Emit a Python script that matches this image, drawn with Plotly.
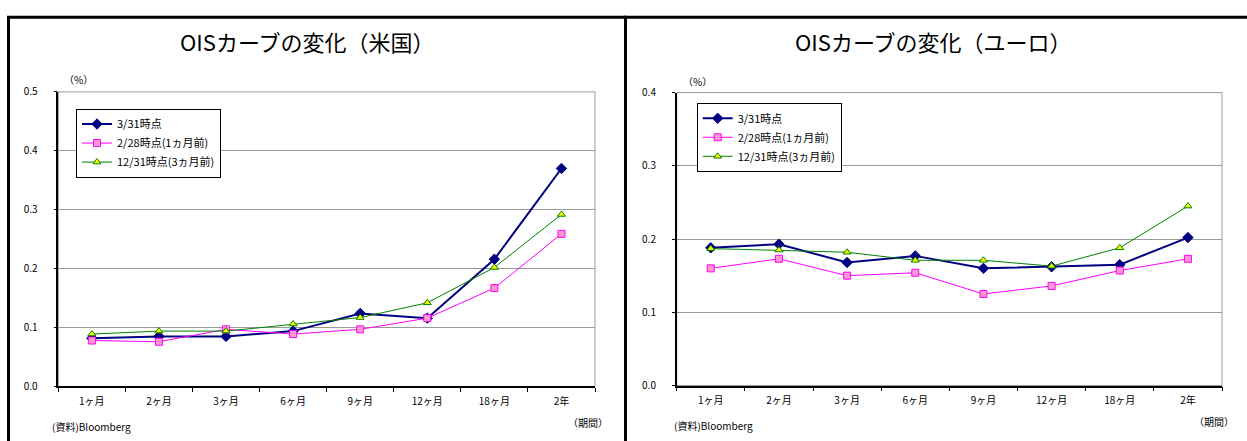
import plotly.graph_objects as go

W, H = 1247, 441

categories = ["1ヶ月", "2ヶ月", "3ヶ月", "6ヶ月", "9ヶ月", "12ヶ月", "18ヶ月", "2年"]
series_names = ["3/31時点", "2/28時点(1ヵ月前)", "12/31時点(3ヵ月前)"]

us_0331 = [0.082, 0.085, 0.085, 0.094, 0.124, 0.116, 0.216, 0.370]
us_0228 = [0.078, 0.076, 0.097, 0.089, 0.097, 0.116, 0.167, 0.259]
us_1231 = [0.089, 0.094, 0.094, 0.106, 0.117, 0.142, 0.202, 0.292]

eu_0331 = [0.188, 0.193, 0.168, 0.177, 0.160, 0.162, 0.165, 0.202]
eu_0228 = [0.160, 0.173, 0.150, 0.154, 0.125, 0.136, 0.157, 0.173]
eu_1231 = [0.187, 0.185, 0.182, 0.171, 0.171, 0.163, 0.188, 0.245]

FONT = "Noto Sans CJK JP"

def px(x):
    return x / W

def py(y):
    return 1 - y / H

styles = [
    dict(line=dict(color="#000080", width=2),
         marker=dict(symbol="diamond", size=8, color="#000080",
                     line=dict(color="#000080", width=1))),
    dict(line=dict(color="#FF00FF", width=1),
         marker=dict(symbol="square", size=7, color="#FF99CC",
                     line=dict(color="#FF00FF", width=1))),
    dict(line=dict(color="#008000", width=1),
         marker=dict(symbol="triangle-up", size=7, color="#FFFF00",
                     line=dict(color="#008000", width=1))),
]

fig = go.Figure()

for vals, name, st in zip([us_0331, us_0228, us_1231], series_names, styles):
    fig.add_trace(go.Scatter(x=categories, y=vals, name=name, mode="lines+markers",
                             xaxis="x", yaxis="y", legend="legend", **st))
for vals, name, st in zip([eu_0331, eu_0228, eu_1231], series_names, styles):
    fig.add_trace(go.Scatter(x=categories, y=vals, name=name, mode="lines+markers",
                             xaxis="x2", yaxis="y2", legend="legend2", **st))

xcommon = dict(type="category", tickson="boundaries", ticks="outside", ticklen=4,
               tickcolor="black", showline=True, linecolor="black", linewidth=1.5,
               showgrid=False, range=[-0.5, 7.5], fixedrange=True,
               tickfont=dict(family=FONT, size=10, color="black"),
               ticklabelstandoff=5, zeroline=False)
ycommon = dict(ticks="outside", ticklen=3, tickcolor="black", showline=True,
               linecolor="black", linewidth=1.5, showgrid=True, gridcolor="#999999",
               gridwidth=1, dtick=0.1, tickformat=".1f", zeroline=False,
               tickfont=dict(family=FONT, size=10, color="black"),
               ticklabelstandoff=14)

fig.update_layout(
    width=W, height=H,
    margin=dict(l=0, r=0, t=0, b=0),
    paper_bgcolor="white", plot_bgcolor="white",
    showlegend=True,
    xaxis=dict(domain=[px(58.3), px(595)], anchor="y", **xcommon),
    yaxis=dict(domain=[py(391.7), py(86)], anchor="x", range=[0, 0.5], **ycommon),
    xaxis2=dict(domain=[px(676.7), px(1222)], anchor="y2", **xcommon),
    yaxis2=dict(domain=[py(390.7), py(86.7)], anchor="x2", range=[0, 0.4], **ycommon),
    legend=dict(x=px(76), y=py(103.3), xanchor="left", yanchor="top",
                bordercolor="black", borderwidth=1, bgcolor="white",
                font=dict(family=FONT, size=11, color="black"),
                tracegroupgap=0, itemwidth=30),
    legend2=dict(x=px(696.7), y=py(97.3), xanchor="left", yanchor="top",
                 bordercolor="black", borderwidth=1, bgcolor="white",
                 font=dict(family=FONT, size=11, color="black"),
                 tracegroupgap=0, itemwidth=30),
)

# plot-area frames (gray top/right)
for xd, yd in [("x domain", "y domain"), ("x2 domain", "y2 domain")]:
    fig.add_shape(type="rect", xref=xd, yref=yd, x0=0, x1=1, y0=0, y1=1,
                  line=dict(color="#999999", width=1), layer="below")

# panel borders
fig.add_shape(type="rect", xref="paper", yref="paper", x0=px(8.5), x1=px(625.5),
              y0=py(460), y1=py(8.5), line=dict(color="black", width=3))
fig.add_shape(type="rect", xref="paper", yref="paper", x0=px(625.5), x1=px(1252),
              y0=py(460), y1=py(8.5), line=dict(color="black", width=3))

ann = []
def text(x, y, s, size=10, xanchor="center"):
    ann.append(dict(x=px(x), y=py(y), xref="paper", yref="paper", text=s,
                    showarrow=False, xanchor=xanchor, yanchor="middle",
                    font=dict(family=FONT, size=size, color="black")))

text(307.5, 33, "OISカーブの変化（米国）", size=22)
text(933, 33, "OISカーブの変化（ユーロ）", size=22)
text(62, 73, "（%）", xanchor="left")
text(681, 75, "（%）", xanchor="left")
text(50, 432.7, "(資料)Bloomberg", xanchor="left")
text(672, 432, "(資料)Bloomberg", xanchor="left")
text(588, 429, "（期間）")
text(1214, 428, "（期間）")
fig.update_layout(annotations=ann)

fig.write_html(
    "out.html",
    config={"displayModeBar": False},
    post_script="document.body.style.margin='0';document.body.style.overflow='hidden';",
)
